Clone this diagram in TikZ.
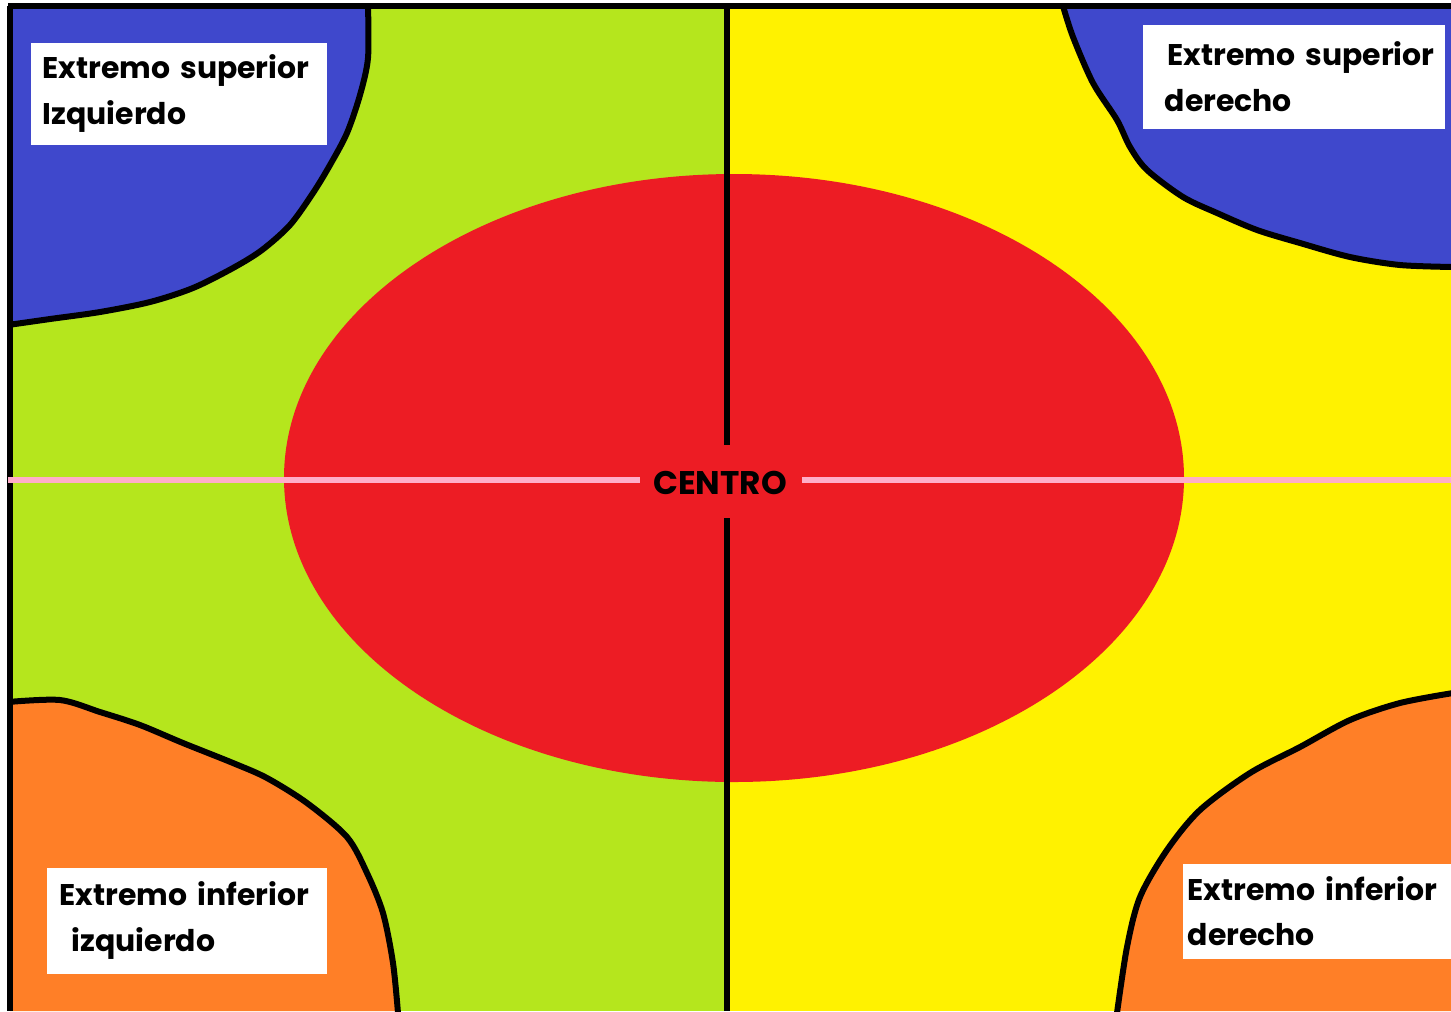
\documentclass[tikz,border=0pt]{standalone}
\usepackage{fontspec}
\setmainfont{Poppins}
\usetikzlibrary{positioning}
\definecolor{azul}{RGB}{63,72,204}
\definecolor{verde}{RGB}{181,230,29}
\definecolor{amarillo}{RGB}{255,242,0}
\definecolor{rojo}{RGB}{237,28,36}
\definecolor{naranja}{RGB}{255,127,39}
\definecolor{rosa}{RGB}{255,174,201}
\begin{document}
\begin{tikzpicture}[x=0.01cm,y=-0.01cm,
  borde/.style={draw=black,line width=0.06cm,line join=round},
  eje/.style={line width=0.06cm},
  etiqueta/.style={fill=white,anchor=north west,align=left,inner xsep=0pt,font=\bfseries\fontsize{8.5}{13}\selectfont}]
\useasboundingbox (0,0) rectangle (1451,1011);
\fill[white] (0,0) rectangle (1451,1011);
% mitades
\fill[verde] (10,6) rectangle (727,1011);
\fill[amarillo] (727,6) rectangle (1451,1011);
% centro
\fill[rojo] (734,478) ellipse [x radius=450, y radius=304];
% extremo superior izquierdo
\fill[azul] (10,6) -- (368,6) -- plot[smooth] coordinates {(368,58) (360,95) (347,133) (330,165) (313,193) (290,225) (262,250) (233,268) (193,288) (150,302) (100,312) (50,319) (10,325)} -- cycle;
\draw[borde] plot[smooth] coordinates {(368,6) (368,58) (360,95) (347,133) (330,165) (313,193) (290,225) (262,250) (233,268) (193,288) (150,302) (100,312) (50,319) (8,325)};
% extremo superior derecho
\fill[azul] (1063,6) -- (1451,6) -- (1451,267) -- plot[smooth] coordinates {(1400,265) (1350,257) (1300,243) (1257,230) (1217,213) (1183,197) (1147,170) (1130,147) (1117,120) (1093,83) (1073,37) (1063,8)} -- cycle;
\draw[borde] plot[smooth] coordinates {(1063,6) (1073,37) (1093,83) (1117,120) (1130,147) (1147,170) (1183,197) (1217,213) (1257,230) (1300,243) (1350,257) (1400,265) (1453,267)};
% extremo inferior izquierdo
\fill[naranja] (10,702) -- plot[smooth] coordinates {(60,700) (100,712) (140,725) (183,743) (233,763) (267,778) (307,803) (347,837) (367,873) (383,913) (393,963) (398,1011)} -- (10,1011) -- cycle;
\draw[borde] plot[smooth] coordinates {(8,702) (60,700) (100,712) (140,725) (183,743) (233,763) (267,778) (307,803) (347,837) (367,873) (383,913) (393,963) (398,1013)};
% extremo inferior derecho
\fill[naranja] (1451,693) -- plot[smooth] coordinates {(1400,703) (1350,720) (1300,747) (1250,773) (1200,810) (1167,850) (1140,897) (1127,947) (1117,1011)} -- (1451,1011) -- cycle;
\draw[borde] plot[smooth] coordinates {(1453,693) (1400,703) (1350,720) (1300,747) (1250,773) (1200,810) (1167,850) (1140,897) (1127,947) (1117,1013)};
% marco
\draw[eje] (8,6) -- (1451,6);
\draw[eje] (10,6) -- (10,1011);
% ejes
\node[font=\bfseries\fontsize{9.3}{10}\selectfont] (centro) at (720,483) {CENTRO};
\coordinate (arriba) at (727,6);
\coordinate (abajo) at (727,1011);
\coordinate (izq) at (8,480);
\coordinate (der) at (1451,480);
\draw[eje] (arriba) -- (727,445);
\draw[eje] (727,518) -- (abajo);
\draw[eje,rosa] (izq) -- (640,480);
\draw[eje,rosa] (802,480) -- (der);
% etiquetas
\node[etiqueta,minimum height=1.02cm,text width=2.96cm] (supizq) at (30,42) {\hspace*{0.12cm}Extremo superior\\\hspace*{0.12cm}Izquierdo};
\node[etiqueta,minimum height=1.04cm,text width=3.02cm] (supder) at (1142,24) {\hspace*{0.25cm}Extremo superior\\\hspace*{0.22cm}derecho};
\node[etiqueta,minimum height=1.06cm,text width=2.80cm] (infizq) at (46,867) {\hspace*{0.13cm}Extremo inferior\\\hspace*{0.25cm}izquierdo};
\node[etiqueta,minimum height=0.95cm,text width=2.69cm] (infder) at (1182,863) {\hspace*{0.05cm}Extremo inferior\\\hspace*{0.05cm}derecho};
\end{tikzpicture}
\end{document}
